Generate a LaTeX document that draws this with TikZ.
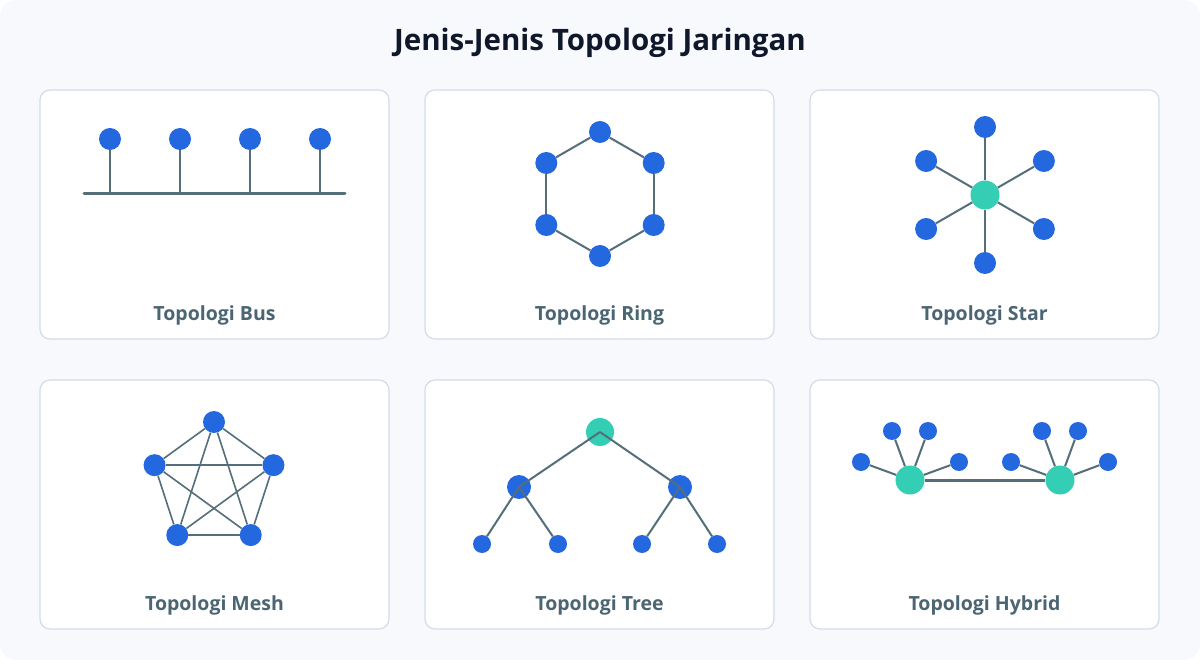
\documentclass[tikz,border=0pt]{standalone}
\usepackage{fontspec}
\setmainfont{Open Sans}
\usepackage{tikz}
\usetikzlibrary{calc}
\definecolor{pagebg}{HTML}{F7F9FC}
\definecolor{cardedge}{HTML}{D3DCE8}
\definecolor{nodeblue}{HTML}{2468DF}
\definecolor{hubteal}{HTML}{33CEB3}
\definecolor{wire}{HTML}{546E7A}
\definecolor{labelgray}{HTML}{4B6573}
\definecolor{titleink}{HTML}{0F172A}
\tikzstyle{card}=[draw=cardedge, line width=1.2pt, fill=white, rounded corners=10pt]
\tikzstyle{host}=[circle, fill=nodeblue, inner sep=0pt, minimum size=22pt]
\tikzstyle{leaf}=[host, minimum size=18pt]
\tikzstyle{hub}=[circle, fill=hubteal, inner sep=0pt, minimum size=29pt]
\tikzstyle{link}=[draw=wire, line width=2pt]
\tikzstyle{trunk}=[draw=wire, line width=3pt]
\tikzstyle{caption}=[font=\fontsize{19.5}{23}\selectfont\bfseries, text=labelgray]

\begin{document}
\begin{tikzpicture}[x=1pt, y=-1pt]

		\useasboundingbox (0,0) rectangle (1200,660);
		\fill[pagebg, rounded corners=16pt] (0,0) rectangle (1200,660);
		\node[font=\fontsize{29.5}{34}\selectfont\bfseries, text=titleink] (title) at (600,43) {Jenis-Jenis Topologi Jaringan};

		\foreach \x/\y in {40/90, 425/90, 810/90, 40/380, 425/380, 810/380}{
			\draw[card] (\x, \y) rectangle (\x + 349, \y + 249);
		}

		% bus
		\begin{scope}[shift={(40,90)}]
			\coordinate (busL) at (44,104);
			\coordinate (busR) at (305,104);
			\draw[trunk, line cap=round] (busL) -- (busR);
			\foreach \i/\x in {1/70, 2/140, 3/210, 4/280}{
				\node[host] (bus\i) at (\x,49) {};
				\draw[link] (bus\i) -- (bus\i |- busL);
			}
			\node[caption] (capBus) at (174.5,225.5) {Topologi Bus};
		\end{scope}

		% ring
		\begin{scope}[shift={(425,90)}]
			\foreach \i/\a in {1/-90, 2/-30, 3/30, 4/90, 5/150, 6/210}{
				\node[host] (ring\i) at ($(175,104)+(\a:62)$) {};
			}
			\foreach \i/\j in {1/2, 2/3, 3/4, 4/5, 5/6, 6/1}{
				\draw[link] (ring\i) -- (ring\j);
			}
			\node[caption] (capRing) at (174.5,225.5) {Topologi Ring};
		\end{scope}

		% star
		\begin{scope}[shift={(810,90)}]
			\node[hub] (starHub) at (175,105) {};
			\foreach \i/\a in {1/-90, 2/-30, 3/30, 4/90, 5/150, 6/210}{
				\node[host] (star\i) at ($(175,105)+(\a:68)$) {};
				\draw[link] (starHub) -- (star\i);
			}
			\node[caption] (capStar) at (174.5,225.5) {Topologi Star};
		\end{scope}

		% mesh
		\begin{scope}[shift={(40,380)}]
			\foreach \i/\a in {1/-90, 2/-18, 3/54, 4/126, 5/198}{
				\node[host] (mesh\i) at ($(174,104.5)+(\a:62.5)$) {};
			}
			\foreach \i/\j in {1/2, 1/3, 1/4, 1/5, 2/3, 2/4, 2/5, 3/4, 3/5, 4/5}{
				\draw[link, line width=1.6pt] (mesh\i) -- (mesh\j);
			}
			\node[caption] (capMesh) at (174.5,225.5) {Topologi Mesh};
		\end{scope}

		% tree
		\begin{scope}[shift={(425,380)}]
			\node[hub, minimum size=28pt] (root) at (175,52) {};
			\node[host, minimum size=24pt] (branchA) at (94,107) {};
			\node[host, minimum size=24pt] (branchB) at (255,107) {};
			\node[leaf] (treeA1) at (57,164) {};
			\node[leaf] (treeA2) at (133,164) {};
			\node[leaf] (treeB1) at (217,164) {};
			\node[leaf] (treeB2) at (292,164) {};
			\draw[link] (root.center) -- (branchA.center);
			\draw[link] (root.center) -- (branchB.center);
			\draw[link] (branchA.center) -- (treeA1);
			\draw[link] (branchA.center) -- (treeA2);
			\draw[link] (branchB.center) -- (treeB1);
			\draw[link] (branchB.center) -- (treeB2);
			\node[caption] (capTree) at (174.5,225.5) {Topologi Tree};
		\end{scope}

		% hybrid
		\begin{scope}[shift={(810,380)}]
			\node[hub] (hubL) at (100,100) {};
			\node[hub] (hubR) at (250,100) {};
			\draw[trunk] (hubL) -- (hubR);
			\foreach \i/\x/\y in {1/51/82, 2/82/51, 3/118/51, 4/149/82}{
				\node[leaf] (hybL\i) at (\x,\y) {};
				\draw[link] (hubL) -- (hybL\i);
			}
			\foreach \i/\x/\y in {1/201/82, 2/232/51, 3/268/51, 4/298/82}{
				\node[leaf] (hybR\i) at (\x,\y) {};
				\draw[link] (hubR) -- (hybR\i);
			}
			\node[caption] (capHybrid) at (174.5,225.5) {Topologi Hybrid};
		\end{scope}

		\end{tikzpicture}
\end{document}
